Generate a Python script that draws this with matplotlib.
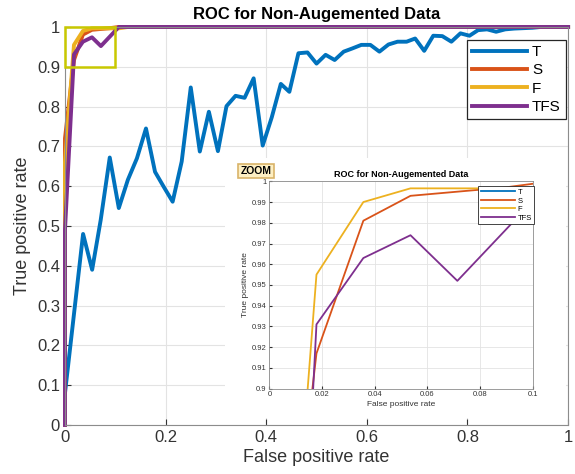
import matplotlib
matplotlib.use("Agg")
import matplotlib.pyplot as plt
from matplotlib.patches import Rectangle
from matplotlib.ticker import FuncFormatter

plt.rcParams["font.family"] = ["Liberation Sans", "DejaVu Sans"]

# ROC curve points
fpr_t = [0, 0, 0.036, 0.054, 0.071, 0.089, 0.107, 0.125, 0.143, 0.161, 0.179,
         0.196, 0.214, 0.232, 0.25, 0.268, 0.286, 0.304, 0.321, 0.339, 0.357,
         0.375, 0.393, 0.411, 0.429, 0.446, 0.464, 0.482, 0.5, 0.518, 0.536,
         0.554, 0.571, 0.589, 0.607, 0.625, 0.643, 0.661, 0.679, 0.696, 0.714,
         0.732, 0.75, 0.768, 0.786, 0.804, 0.821, 0.839, 0.857, 0.875, 0.893,
         0.911, 0.929, 0.946, 1.0]
tpr_t = [0, 0.08, 0.48, 0.39, 0.515, 0.672, 0.545, 0.616, 0.67, 0.745, 0.636,
         0.599, 0.561, 0.662, 0.848, 0.687, 0.787, 0.688, 0.801, 0.827, 0.822,
         0.871, 0.702, 0.773, 0.857, 0.837, 0.934, 0.936, 0.908, 0.93, 0.917,
         0.938, 0.946, 0.955, 0.955, 0.938, 0.956, 0.963, 0.963, 0.971, 0.94,
         0.978, 0.977, 0.963, 0.984, 0.978, 0.992, 0.994, 0.988, 0.994, 0.996,
         0.997, 0.998, 1.0, 1.0]

fpr_s = [0, 0, 0.0179, 0.0357, 0.0536, 0.0714, 0.0893, 0.1071, 1.0]
tpr_s = [0, 0.72, 0.917, 0.981, 0.993, 0.995, 0.997, 1.0, 1.0]

fpr_f = [0, 0, 0.0179, 0.0357, 0.0536, 0.1071, 0.125, 1.0]
tpr_f = [0, 0.66, 0.955, 0.990, 0.9966, 0.9966, 1.0, 1.0]

fpr_tfs = [0, 0, 0.0179, 0.0357, 0.0536, 0.0714, 0.0893, 0.1071, 1.0]
tpr_tfs = [0, 0.49, 0.931, 0.963, 0.974, 0.952, 0.976, 1.0, 1.0]

labels = ["T", "S", "F", "TFS"]
colors = ["#0072BD", "#D95319", "#EDB120", "#7E2F8E"]
curves = [(fpr_t, tpr_t), (fpr_s, tpr_s), (fpr_f, tpr_f), (fpr_tfs, tpr_tfs)]

title = "ROC for Non-Augemented Data"
grid_col = "#E3E3E3"
spine_col = "#8C8C8C"
text_col = "#333333"
fmt_g = FuncFormatter(lambda v, p: f"{v:g}")

fig = plt.figure(figsize=(5.75, 4.74), dpi=100)

# main axes
ax = fig.add_axes([0.113, 0.1034, 0.875, 0.8397])
for (x, y), c, lab in zip(curves, colors, labels):
    ax.plot(x, y, color=c, lw=2.8, label=lab, clip_on=False)
ax.set_xlim(0, 1)
ax.set_ylim(0, 1)
ax.set_xticks([0, 0.2, 0.4, 0.6, 0.8, 1])
ax.set_yticks([i / 10 for i in range(11)])
ax.xaxis.set_major_formatter(fmt_g)
ax.yaxis.set_major_formatter(fmt_g)
ax.tick_params(direction="in", labelsize=12, colors=text_col, length=4)
ax.grid(True, color=grid_col, lw=0.8)
for s in ax.spines.values():
    s.set_color(spine_col)
ax.set_xlabel("False positive rate", fontsize=13, color=text_col, labelpad=3)
ax.set_ylabel("True positive rate", fontsize=13, color=text_col, labelpad=4)
ax.set_title(title, fontsize=12, fontweight="bold", pad=6)
leg = ax.legend(loc="upper right", bbox_to_anchor=(0.996, 0.968), fontsize=11,
                handlelength=3.6, handletextpad=0.3, fancybox=False,
                framealpha=1, edgecolor="#262626", borderpad=0.35,
                labelspacing=0.28, borderaxespad=0)
leg.get_frame().set_linewidth(0.9)

# zoom rectangle
ax.add_patch(Rectangle((0, 0.9), 0.1, 0.1, fill=False, edgecolor="#C8C800",
                       lw=1.8, zorder=5, clip_on=False))

# white backdrop behind the inset
bg = fig.add_axes([225 / 575, 1 - 418 / 474, 341 / 575, 260 / 474])
bg.set_facecolor("white")
bg.set_xticks([])
bg.set_yticks([])
for s in bg.spines.values():
    s.set_visible(False)
bg.text(31 / 341, 1 - 13 / 260, "ZOOM", transform=bg.transAxes, fontsize=7.5,
        fontweight="bold", ha="center", va="center",
        bbox=dict(boxstyle="square,pad=0.2", facecolor="#FDEFC3",
                  edgecolor="#D9B46A", lw=1.2))

# inset axes
ins = fig.add_axes([0.4684, 0.18, 0.458, 0.4375])
for (x, y), c, lab in zip(curves, colors, labels):
    ins.plot(x, y, color=c, lw=1.3, label=lab)
ins.set_xlim(0, 0.1)
ins.set_ylim(0.9, 1)
ins.set_xticks([0, 0.02, 0.04, 0.06, 0.08, 0.1])
ins.set_yticks([0.9 + i / 100 for i in range(11)])
ins.xaxis.set_major_formatter(fmt_g)
ins.yaxis.set_major_formatter(FuncFormatter(lambda v, p: f"{round(v, 2):g}"))
ins.tick_params(direction="in", labelsize=5.5, colors=text_col, length=2, pad=2)
ins.grid(True, color=grid_col, lw=0.6)
for s in ins.spines.values():
    s.set_color(spine_col)
    s.set_linewidth(0.6)
ins.set_xlabel("False positive rate", fontsize=6, color=text_col, labelpad=2)
ins.set_ylabel("True positive rate", fontsize=6, color=text_col, labelpad=2)
ins.set_title(title, fontsize=6.5, fontweight="bold", pad=3)
ileg = ins.legend(loc="upper right", bbox_to_anchor=(1.005, 0.975), fontsize=5.5,
                  handlelength=4.5, handletextpad=0.3, fancybox=False,
                  framealpha=1, edgecolor="#262626", borderpad=0.3,
                  labelspacing=0.15, borderaxespad=0)
ileg.get_frame().set_linewidth(0.6)

fig.savefig("out.png", dpi=100)
